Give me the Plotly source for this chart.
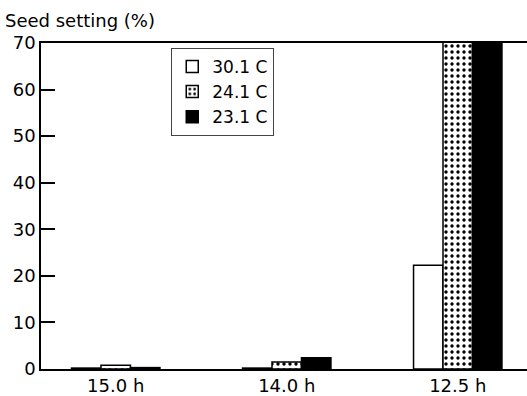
import plotly.graph_objects as go

categories = ["15.0 h", "14.0 h", "12.5 h"]
series_names = ["30.1 C", "24.1 C", "23.1 C"]
vals_30 = [0.2, 0.2, 22.3]
vals_24 = [0.8, 1.5, 75]
vals_23 = [0.3, 2.4, 75]
y_ticks = [0, 10, 20, 30, 40, 50, 60, 70]

font = "DejaVu Sans"

fig = go.Figure()
fig.add_trace(go.Bar(
    x=categories, y=vals_30, name=series_names[0],
    marker=dict(color="white", line=dict(color="black", width=1.5)),
))
fig.add_trace(go.Bar(
    x=categories, y=vals_24, name=series_names[1],
    marker=dict(color="white", line=dict(color="black", width=1.5),
                pattern=dict(shape=".", fgcolor="black", bgcolor="white",
                             size=6, solidity=0.25, fillmode="replace")),
))
fig.add_trace(go.Bar(
    x=categories, y=vals_23, name=series_names[2],
    marker=dict(color="black", line=dict(color="black", width=1.5)),
))

fig.update_layout(
    width=527, height=396,
    margin=dict(l=41, r=0, t=43, b=25),
    paper_bgcolor="white", plot_bgcolor="white",
    barmode="group", bargap=0.483, bargroupgap=0,
    font=dict(family=font, size=18, color="black"),
    showlegend=True,
    legend=dict(
        x=0.268, y=0.985, xanchor="left", yanchor="top",
        bgcolor="white", bordercolor="#444", borderwidth=1,
        font=dict(family=font, size=17, color="black"),
        tracegroupgap=0, itemwidth=30,
        traceorder="normal",
    ),
    xaxis=dict(
        type="category", range=[-0.437, 2.405],
        showline=True, linecolor="black", linewidth=1.5, mirror=True,
        ticks="", showgrid=False, zeroline=False,
        tickfont=dict(family=font, size=18),
    ),
    yaxis=dict(
        range=[0, 70], tickvals=y_ticks,
        showline=True, linecolor="black", linewidth=1.5, mirror=False,
        ticks="inside", ticklen=14, tickwidth=1.5, tickcolor="black",
        showgrid=False, zeroline=False,
        tickfont=dict(family=font, size=18),
    ),
    annotations=[dict(
        text="Seed setting (%)", x=0, y=1, xref="paper", yref="paper",
        xanchor="left", yanchor="bottom", xshift=-38, yshift=10,
        showarrow=False, font=dict(family=font, size=18, color="black"),
    )],
)

fig.write_html("out.html")
